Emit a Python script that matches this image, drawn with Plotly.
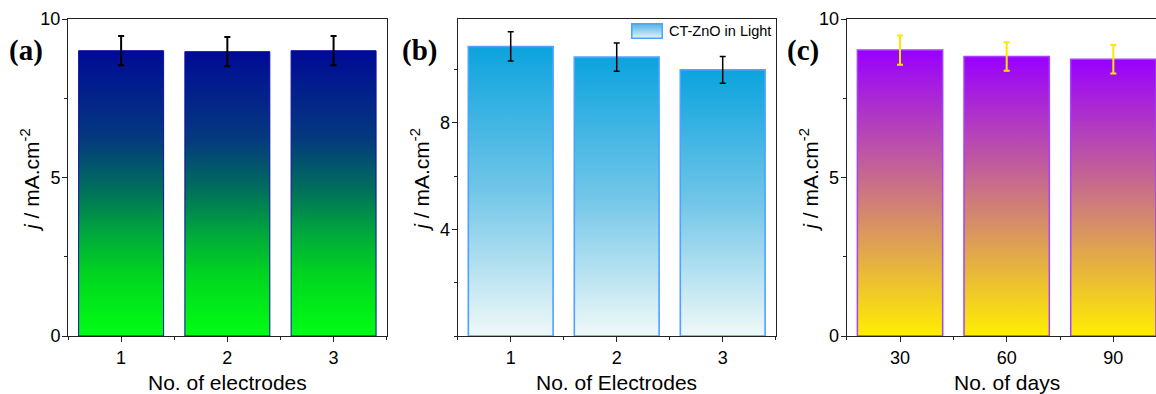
import base64
import plotly.graph_objects as go

# ---------------- data ----------------
electrodes = [1, 2, 3]
j_a = [9.00, 8.97, 9.00]
err_a = [0.46, 0.46, 0.46]

j_b = [10.87, 10.47, 9.99]
err_b = [0.55, 0.53, 0.50]

days = [30, 60, 90]
j_c = [9.02, 8.82, 8.73]
err_c = [0.46, 0.45, 0.45]

legend_name = "CT-ZnO in Light"

# ---------------- styles ----------------
FONT = "Liberation Sans, Arial, sans-serif"
SERIF = "Liberation Serif, Times New Roman, serif"

scale_a = [[0, "#00ff12"], [0.22, "#00d420"], [0.36, "#00a83c"],
           [0.51, "#00705a"], [0.69, "#053a7e"], [1, "#000a96"]]
scale_b = [[0, "#f0f9f8"], [0.5, "#72c6e8"], [1, "#0ba3de"]]
scale_c = [[0, "#ffee00"], [1, "#9900ff"]]

fig = go.Figure()


def add_bars(xs, ys, errs, width, scale, outline, ow, errcolor, ethick, ewidth,
             xaxis, yaxis, name):
    for i, (x, y) in enumerate(zip(xs, ys)):
        x0, x1 = x - width / 2, x + width / 2
        fig.add_trace(go.Scatter(
            x=[x0, x0, x1, x1, x0], y=[0, y, y, 0, 0],
            mode="lines", fill="toself",
            line=dict(color=outline, width=ow),
            fillgradient=dict(type="vertical", colorscale=scale, start=0, stop=y),
            xaxis=xaxis, yaxis=yaxis, name=name, showlegend=False,
            hoverinfo="skip",
        ))
    fig.add_trace(go.Scatter(
        x=xs, y=ys, mode="markers", name=name,
        marker=dict(size=1, color="rgba(0,0,0,0)"),
        error_y=dict(type="data", array=errs, visible=True,
                     color=errcolor, thickness=ethick, width=ewidth),
        xaxis=xaxis, yaxis=yaxis, showlegend=False,
    ))


add_bars(electrodes, j_a, err_a, 0.8, scale_a, "#1010a0", 1, "black", 2, 3, "x", "y", "a")
add_bars(electrodes, j_b, err_b, 0.8, scale_b, "#4da3ff", 1.6, "black", 1.5, 3, "x2", "y2",
         legend_name)
add_bars(days, j_c, err_c, 24, scale_c, "#a640ff", 1.5, "#ffe600", 2, 3, "x3", "y3", "c")

W, H = 1156, 394
top, bottom = 19, 336
ydom = [1 - bottom / H, 1 - top / H]
lefts = [68, 457.7, 846.7]
rights = [386.7, 775.7, W]

axis_common = dict(
    showgrid=False, zeroline=False, showline=True, linecolor="#222", linewidth=1,
    ticks="outside", ticklen=5, tickwidth=1, tickcolor="#222", automargin=False,
    tickfont=dict(family=FONT, size=18, color="black"),
)
minor = dict(ticks="outside", ticklen=3, tickwidth=1, tickcolor="#222", showgrid=False)

fig.update_layout(
    width=W, height=H, margin=dict(l=0, r=0, t=0, b=0, autoexpand=False),
    paper_bgcolor="white", plot_bgcolor="white",
    showlegend=False,
    xaxis=dict(domain=[lefts[0] / W, rights[0] / W], range=[0.5, 3.5],
               tickvals=electrodes, mirror=True, minor=dict(dtick=0.5, tick0=0.5, **minor),
               anchor="y", **axis_common),
    yaxis=dict(domain=ydom, range=[0, 10], tickvals=[0, 5, 10], mirror=True,
               minor=dict(dtick=2.5, **minor), anchor="x", ticklabelstandoff=-2, **axis_common),
    xaxis2=dict(domain=[lefts[1] / W, rights[1] / W], range=[0.5, 3.5],
                tickvals=electrodes, mirror=True, minor=dict(dtick=0.5, tick0=0.5, **minor),
                anchor="y2", **axis_common),
    yaxis2=dict(domain=ydom, range=[0, 11.9], tickvals=[4, 8], mirror=True,
                minor=dict(dtick=2, **minor), anchor="x2", ticklabelstandoff=-2, **axis_common),
    xaxis3=dict(domain=[lefts[2] / W, 1], range=[15, 102],
                tickvals=days, mirror=True, minor=dict(dtick=15, tick0=15, **minor),
                anchor="y3", **axis_common),
    yaxis3=dict(domain=ydom, range=[0, 10], tickvals=[0, 5, 10], mirror=False,
                minor=dict(dtick=2.5, **minor), anchor="x3", ticklabelstandoff=-2, **axis_common),
)

# legend swatch (gradient rectangle) + legend text for panel (b)
svg = ('<svg xmlns="http://www.w3.org/2000/svg" width="32" height="16">'
       '<defs><linearGradient id="g" x1="0" y1="0" x2="0" y2="1">'
       '<stop offset="0" stop-color="#4fb2e4"/><stop offset="1" stop-color="#e2f4fb"/>'
       '</linearGradient></defs>'
       '<rect x="0.75" y="0.75" width="30.5" height="14.5" fill="url(#g)" '
       'stroke="#4da3ff" stroke-width="1.5"/></svg>')
src = "data:image/svg+xml;base64," + base64.b64encode(svg.encode()).decode()
fig.add_layout_image(source=src, xref="paper", yref="paper", x=631 / W, y=1 - 23 / H,
                     sizex=32 / W, sizey=16 / H, xanchor="left", yanchor="top",
                     sizing="stretch", layer="above")
fig.add_annotation(text=legend_name, x=667 / W, y=1 - 31 / H, xref="paper", yref="paper",
                   showarrow=False, xanchor="left", yanchor="middle",
                   font=dict(family=FONT, size=14.5, color="black"))

xtitles = ["No. of electrodes", "No. of Electrodes", "No. of days"]
labels = ["(a)", "(b)", "(c)"]
label_x = [25.5, 419, 803]
ytitle = "<i>j</i> / mA.cm<sup>-2</sup>"
for k in range(3):
    cx = (lefts[k] + (rights[k] if k < 2 else lefts[k] + 320)) / 2
    fig.add_annotation(text=xtitles[k], x=cx / W, y=1 - 382 / H, xref="paper", yref="paper",
                       showarrow=False, font=dict(family=FONT, size=21, color="black"),
                       xanchor="center", yanchor="middle")
    fig.add_annotation(text=ytitle, x=(lefts[k] - 38) / W, y=1 - 180 / H,
                       xref="paper", yref="paper", textangle=-90,
                       showarrow=False, font=dict(family=FONT, size=21, color="black"),
                       xanchor="center", yanchor="middle")
    fig.add_annotation(text="<b>" + labels[k] + "</b>", x=label_x[k] / W, y=1 - 50 / H,
                       xref="paper", yref="paper", showarrow=False,
                       font=dict(family=SERIF, size=29, color="black"),
                       xanchor="center", yanchor="middle")

fig.write_html("out.html")
